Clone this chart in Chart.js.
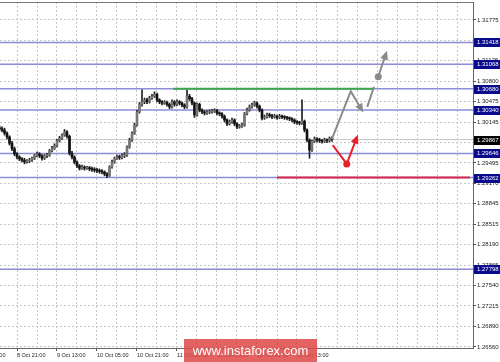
<!DOCTYPE html>
<html>
<head>
<meta charset="utf-8">
<script src="https://cdn.jsdelivr.net/npm/chart.js@4.4.0/dist/chart.umd.min.js"></script>
<style>
  body { margin: 0; background: #fff; }
  canvas { display: block; }
</style>
</head>
<body>
<canvas id="fxChart" width="500" height="362"></canvas>
<script>
// H1 candles, bar index 0 = 8 Oct 21:00
var firstBar = -7;
var opens = [
  1.3006,1.3004,1.3002,1.2997,1.2991,1.2981,1.2972,1.2964,1.2959,1.2956,
  1.2954,1.2951,1.2953,1.2954,1.2957,1.2961,1.2964,1.2961,1.2957,1.2961,
  1.2962,1.2969,1.2973,1.2977,1.2985,1.2989,1.2994,1.2999,1.2992,1.2965,
  1.2959,1.2951,1.2945,1.2941,1.2943,1.2941,1.2942,1.2940,1.2939,1.2938,
  1.2937,1.2936,1.2935,1.2932,1.2929,1.2943,1.2951,1.2957,1.2959,1.2958,
  1.2961,1.2962,1.2975,1.2986,1.2997,1.3010,1.3031,1.3043,1.3047,1.3050,
  1.3047,1.3053,1.3056,1.3059,1.3050,1.3047,1.3045,1.3046,1.3043,1.3039,
  1.3047,1.3043,1.3047,1.3045,1.3042,1.3039,1.3056,1.3052,1.3045,1.3026,
  1.3043,1.3034,1.3031,1.3029,1.3030,1.3031,1.3032,1.3033,1.3029,1.3028,
  1.3024,1.3018,1.3012,1.3015,1.3018,1.3012,1.3007,1.3008,1.3010,1.3028,
  1.3034,1.3039,1.3042,1.3045,1.3040,1.3034,1.3021,1.3023,1.3026,1.3025,
  1.3023,1.3024,1.3022,1.3024,1.3023,1.3022,1.3021,1.3020,1.3018,1.3015,
  1.3014,1.3013,1.3016,1.3002,1.2986,1.2970,1.2984,1.2988,1.2986,1.2985,
  1.2984,1.2986,1.2985,1.2989
];
var highs = [
  1.3009,1.3007,1.3005,1.2999,1.2993,1.2984,1.2975,1.2966,1.2961,1.2958,
  1.2957,1.2955,1.2957,1.2959,1.2963,1.2967,1.2966,1.2963,1.2963,1.2965,
  1.2971,1.2976,1.2980,1.2987,1.2992,1.2996,1.3003,1.3001,1.2994,1.2968,
  1.2961,1.2953,1.2947,1.2946,1.2945,1.2944,1.2944,1.2943,1.2942,1.2941,
  1.2940,1.2939,1.2937,1.2934,1.2945,1.2954,1.2959,1.2962,1.2962,1.2964,
  1.2966,1.2977,1.2989,1.2999,1.3013,1.3034,1.3046,1.3066,1.3053,1.3053,
  1.3056,1.3059,1.3063,1.3061,1.3052,1.3049,1.3049,1.3048,1.3045,1.3050,
  1.3049,1.3050,1.3049,1.3047,1.3044,1.3066,1.3059,1.3054,1.3047,1.3045,
  1.3045,1.3036,1.3033,1.3033,1.3034,1.3035,1.3036,1.3035,1.3031,1.3030,
  1.3026,1.3020,1.3018,1.3021,1.3020,1.3014,1.3011,1.3013,1.3030,1.3037,
  1.3042,1.3045,1.3048,1.3047,1.3042,1.3036,1.3026,1.3029,1.3029,1.3027,
  1.3027,1.3026,1.3027,1.3026,1.3025,1.3024,1.3023,1.3022,1.3020,1.3017,
  1.3016,1.3050,1.3018,1.3004,1.2988,1.2986,1.2991,1.2990,1.2989,1.2987,
  1.2989,1.2988,1.2991,1.2991
];
var lows = [
  1.3001,1.2999,1.2994,1.2988,1.2978,1.2969,1.2961,1.2956,1.2953,1.2951,
  1.2948,1.2949,1.2950,1.2952,1.2955,1.2959,1.2958,1.2954,1.2955,1.2958,
  1.2960,1.2967,1.2971,1.2975,1.2983,1.2987,1.2992,1.2989,1.2962,1.2956,
  1.2948,1.2942,1.2938,1.2939,1.2938,1.2939,1.2937,1.2936,1.2935,1.2934,
  1.2933,1.2932,1.2929,1.2926,1.2928,1.2941,1.2949,1.2955,1.2955,1.2956,
  1.2958,1.2960,1.2973,1.2984,1.2995,1.3008,1.3029,1.3040,1.3044,1.3044,
  1.3045,1.3051,1.3054,1.3047,1.3044,1.3042,1.3043,1.3040,1.3036,1.3037,
  1.3040,1.3041,1.3042,1.3039,1.3036,1.3037,1.3049,1.3042,1.3022,1.3024,
  1.3031,1.3028,1.3026,1.3027,1.3028,1.3029,1.3030,1.3026,1.3025,1.3021,
  1.3015,1.3009,1.3010,1.3013,1.3009,1.3004,1.3005,1.3006,1.3008,1.3026,
  1.3032,1.3037,1.3040,1.3037,1.3031,1.3018,1.3019,1.3021,1.3022,1.3020,
  1.3021,1.3019,1.3020,1.3020,1.3019,1.3018,1.3017,1.3015,1.3012,1.3011,
  1.3010,1.3011,1.2999,1.2983,1.2957,1.2968,1.2982,1.2983,1.2982,1.2981,
  1.2982,1.2982,1.2983,1.2984
];
var closes = [
  1.3004,1.3002,1.2997,1.2991,1.2981,1.2972,1.2964,1.2959,1.2956,1.2954,
  1.2951,1.2953,1.2954,1.2957,1.2961,1.2964,1.2961,1.2957,1.2961,1.2962,
  1.2969,1.2973,1.2977,1.2985,1.2989,1.2994,1.2999,1.2992,1.2965,1.2959,
  1.2951,1.2945,1.2941,1.2943,1.2941,1.2942,1.2940,1.2939,1.2938,1.2937,
  1.2936,1.2935,1.2932,1.2929,1.2943,1.2951,1.2957,1.2959,1.2958,1.2961,
  1.2962,1.2975,1.2986,1.2997,1.3010,1.3031,1.3043,1.3047,1.3050,1.3047,
  1.3053,1.3056,1.3059,1.3050,1.3047,1.3045,1.3046,1.3043,1.3039,1.3047,
  1.3043,1.3047,1.3045,1.3042,1.3039,1.3056,1.3052,1.3045,1.3026,1.3043,
  1.3034,1.3031,1.3029,1.3030,1.3031,1.3032,1.3033,1.3029,1.3028,1.3024,
  1.3018,1.3012,1.3015,1.3018,1.3012,1.3007,1.3008,1.3010,1.3028,1.3034,
  1.3039,1.3042,1.3045,1.3040,1.3034,1.3021,1.3023,1.3026,1.3025,1.3023,
  1.3024,1.3022,1.3024,1.3023,1.3022,1.3021,1.3020,1.3018,1.3015,1.3014,
  1.3013,1.3016,1.3002,1.2986,1.2970,1.2984,1.2988,1.2986,1.2985,1.2984,
  1.2986,1.2985,1.2989,1.29867
];

// support / resistance levels and current price
var levels = [1.31418, 1.31068, 1.30680, 1.30340, 1.29646, 1.29262, 1.27798];
var levelLabels = ["1.31418", "1.31068", "1.30680", "1.30340", "1.29646", "1.29262", "1.27798"];
var lastPrice = 1.29867;
var lastPriceLabel = "1.29867";

// axis ticks
var yTickValues = [1.26560, 1.26890, 1.27215, 1.27540, 1.27865, 1.28190, 1.28515, 1.28845, 1.29170,
  1.29495, 1.29820, 1.30145, 1.30475, 1.30800, 1.31125, 1.31450, 1.31775];
var yTickLabels = ["1.26560", "1.26890", "1.27215", "1.27540", "1.27865", "1.28190", "1.28515", "1.28845", "1.29170",
  "1.29495", "1.29820", "1.30145", "1.30475", "1.30800", "1.31125", "1.31450", "1.31775"];
var gridBars = [-16, -8, 0, 8, 16, 24, 32, 40, 48, 56, 64, 72, 80, 88, 96, 104, 112, 120, 128, 136, 144, 152, 160, 168, 176];
var xLabelBars = [-16, 0, 16, 32, 48, 64, 80, 96, 112];
var xLabels = ["8 Oct 05:00", "8 Oct 21:00", "9 Oct 13:00", "10 Oct 05:00", "10 Oct 21:00",
  "11 Oct 13:00", "12 Oct 05:00", "12 Oct 21:00", "15 Oct 13:00"];

// forecast drawings
var resistanceLine = [{ x: 62.4, y: 1.3068 }, { x: 142.4, y: 1.3068 }];
var supportLine = [{ x: 104, y: 1.29262 }, { x: 181.2, y: 1.29262 }];
var grayPath1 = [{ x: 125.9, y: 1.2987 }, { x: 133.5, y: 1.3064 }, { x: 137.9, y: 1.3034 }];
var grayPath2 = [{ x: 140.1, y: 1.3039 }, { x: 142.8, y: 1.3071 }];
var grayPath3 = [{ x: 144.5, y: 1.3087 }, { x: 147.6, y: 1.3124 }];
var redPath = [{ x: 126.3, y: 1.2978 }, { x: 131.9, y: 1.2948 }, { x: 135.9, y: 1.2990 }];

var xMin = -6.8, xMax = 182.4;
var yMin = 1.26544, yMax = 1.32062;

var wickData = highs.map(function (h, k) { return { x: firstBar + k, y: [lows[k], h] }; });
var bodyData = opens.map(function (o, k) { return { x: firstBar + k, y: [o, closes[k]] }; });
var bodyColors = opens.map(function (o, k) { return closes[k] > o ? "#777" : "#111"; });

function flatLine(v, color, width, order) {
  return {
    type: "line", data: [{ x: xMin, y: v }, { x: xMax, y: v }],
    borderColor: color, borderWidth: width, pointRadius: 0, order: order
  };
}

var datasets = levels.map(function (v) { return flatLine(v, "#8c8cd8", 1.5, 5); });
datasets.push(flatLine(lastPrice, "#c4c4c4", 1, 5));
datasets.push({ type: "bar", data: wickData, backgroundColor: "#222", barThickness: 1, grouped: false, order: 3 });
datasets.push({ type: "bar", data: bodyData, backgroundColor: bodyColors, barThickness: 2, minBarLength: 1, grouped: false, order: 2 });
datasets.push({ type: "line", data: resistanceLine, borderColor: "#3aa64a", borderWidth: 2, pointRadius: 0, order: 1 });
datasets.push({ type: "line", data: supportLine, borderColor: "#d3264a", borderWidth: 2, pointRadius: 0, order: 1 });
datasets.push({ type: "line", data: grayPath1, borderColor: "#8a8a8a", borderWidth: 2, pointRadius: 0, arrowHead: true, order: 1 });
datasets.push({ type: "line", data: grayPath2, borderColor: "#8a8a8a", borderWidth: 2, pointRadius: 0, order: 1 });
datasets.push({ type: "line", data: grayPath3, borderColor: "#8a8a8a", borderWidth: 2, pointRadius: [3.5, 0],
  pointBackgroundColor: "#8a8a8a", pointBorderWidth: 0, arrowHead: true, order: 1 });
datasets.push({ type: "line", data: redPath, borderColor: "#e8202a", borderWidth: 2, pointRadius: [0, 3.5, 0],
  pointBackgroundColor: "#e8202a", pointBorderWidth: 0, arrowHead: true, order: 1 });

var arrowHeads = {
  id: "arrowHeads",
  afterDatasetsDraw: function (chart) {
    var ctx = chart.ctx;
    chart.data.datasets.forEach(function (ds, i) {
      if (!ds.arrowHead) return;
      var pts = chart.getDatasetMeta(i).data;
      var a = pts[pts.length - 2], b = pts[pts.length - 1];
      var ang = Math.atan2(b.y - a.y, b.x - a.x);
      ctx.save();
      ctx.translate(b.x, b.y);
      ctx.rotate(ang);
      ctx.fillStyle = ds.borderColor;
      ctx.beginPath();
      ctx.moveTo(3, 0);
      ctx.lineTo(-6, -4);
      ctx.lineTo(-6, 4);
      ctx.closePath();
      ctx.fill();
      ctx.restore();
    });
  }
};

var priceBoxes = {
  id: "priceBoxes",
  afterDraw: function (chart) {
    var ctx = chart.ctx, area = chart.chartArea, ys = chart.scales.y;
    ctx.save();
    ctx.strokeStyle = "#777";
    ctx.lineWidth = 1;
    ctx.beginPath();
    ctx.moveTo(0, area.top + 0.5);
    ctx.lineTo(area.right, area.top + 0.5);
    ctx.stroke();
    ctx.font = "6px 'Liberation Sans', Arial, sans-serif";
    ctx.textBaseline = "middle";
    function box(v, text, fill) {
      var y = Math.round(ys.getPixelForValue(v));
      ctx.fillStyle = fill;
      ctx.fillRect(area.right + 1, y - 4, 27, 9);
      ctx.fillStyle = "#fff";
      ctx.fillText(text, area.right + 4, y + 0.5);
    }
    levels.forEach(function (v, k) { box(v, levelLabels[k], "#0a0a8c"); });
    box(lastPrice, lastPriceLabel, "#000");

    // site watermark
    ctx.fillStyle = "rgba(222, 72, 72, 0.86)";
    ctx.fillRect(184, 339, 133, 23);
    ctx.fillStyle = "#fff";
    ctx.font = "13px 'Liberation Sans', Arial, sans-serif";
    ctx.textAlign = "center";
    ctx.fillText("www.instaforex.com", 250.5, 351);
    ctx.restore();
  }
};

Chart.defaults.font.family = "'Liberation Sans', Arial, sans-serif";

new Chart(document.getElementById("fxChart").getContext("2d"), {
  type: "bar",
  data: { datasets: datasets },
  plugins: [arrowHeads, priceBoxes],
  options: {
    responsive: false,
    animation: false,
    devicePixelRatio: 1,
    layout: { autoPadding: false, padding: { top: 2, left: 0, right: 0, bottom: 0 } },
    plugins: { legend: { display: false }, tooltip: { enabled: false } },
    scales: {
      x: {
        type: "linear",
        min: xMin,
        max: xMax,
        offset: false,
        afterBuildTicks: function (s) { s.ticks = gridBars.map(function (v) { return { value: v }; }); },
        afterFit: function (s) { s.height = 14; s.paddingLeft = 0; s.paddingRight = 0; },
        grid: {
          color: "#c6c6c6",
          offset: false,
          tickLength: 3,
          tickColor: function (c) { return xLabelBars.indexOf(c.tick.value) < 0 ? "rgba(0,0,0,0)" : "#555"; }
        },
        border: { color: "#666", dash: [2, 2] },
        ticks: {
          autoSkip: false,
          maxRotation: 0,
          align: "start",
          padding: 1,
          color: "#222",
          font: { size: 5.5 },
          callback: function (v) { var k = xLabelBars.indexOf(v); return k < 0 ? "" : xLabels[k]; }
        }
      },
      y: {
        position: "right",
        min: yMin,
        max: yMax,
        afterBuildTicks: function (s) { s.ticks = yTickValues.map(function (v) { return { value: v }; }); },
        afterFit: function (s) { s.width = 27; s.paddingTop = 0; s.paddingBottom = 0; },
        grid: { color: "#c6c6c6", tickLength: 3, tickColor: "#555" },
        border: { color: "#666", dash: [2, 2] },
        ticks: {
          padding: 1,
          color: "#222",
          font: { size: 6 },
          callback: function (v, i) { return yTickLabels[i]; }
        }
      }
    }
  }
});
</script>
</body>
</html>
